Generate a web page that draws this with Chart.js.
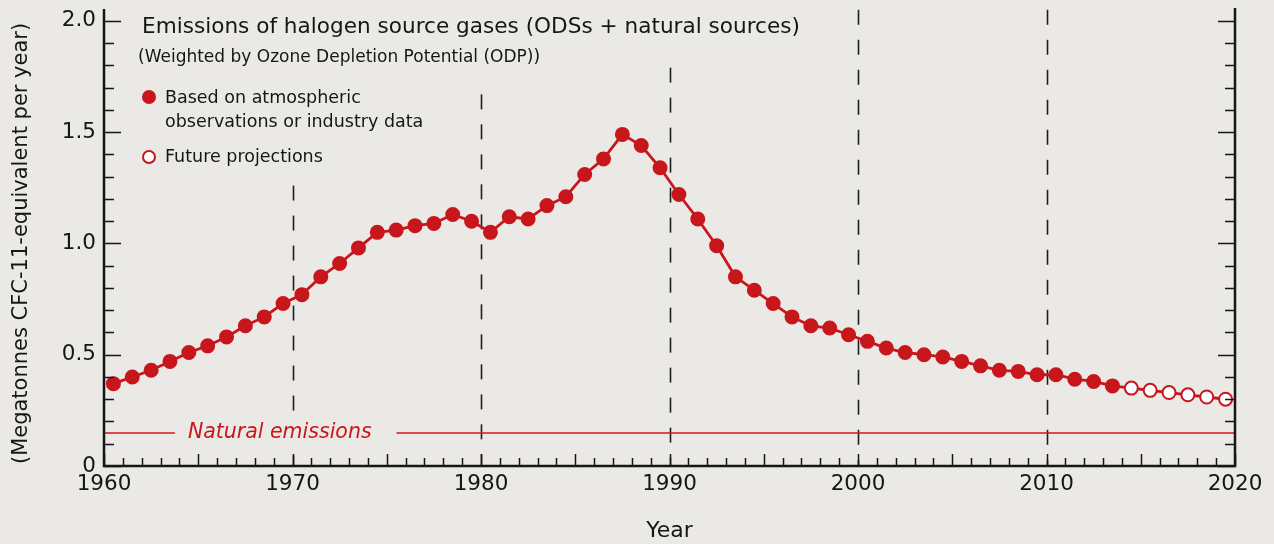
<!DOCTYPE html>
<html>
<head>
<meta charset="utf-8">
<script src="https://cdn.jsdelivr.net/npm/chart.js@4"></script>
<style>
  html, body { margin: 0; padding: 0; background: #ebe9e5; }
  canvas { display: block; }
</style>
</head>
<body>
<canvas id="emissions" width="1274" height="544"></canvas>
<script>

// Mid-year points, 1960.5 .. 2019.5
const years = [
    1960.5, 1961.5, 1962.5, 1963.5, 1964.5, 1965.5, 1966.5, 1967.5, 1968.5, 1969.5,
    1970.5, 1971.5, 1972.5, 1973.5, 1974.5, 1975.5, 1976.5, 1977.5, 1978.5, 1979.5,
    1980.5, 1981.5, 1982.5, 1983.5, 1984.5, 1985.5, 1986.5, 1987.5, 1988.5, 1989.5,
    1990.5, 1991.5, 1992.5, 1993.5, 1994.5, 1995.5, 1996.5, 1997.5, 1998.5, 1999.5,
    2000.5, 2001.5, 2002.5, 2003.5, 2004.5, 2005.5, 2006.5, 2007.5, 2008.5, 2009.5,
    2010.5, 2011.5, 2012.5, 2013.5, 2014.5, 2015.5, 2016.5, 2017.5, 2018.5, 2019.5
];

// Based on atmospheric observations or industry data (1960.5 .. 2013.5)
const observed = [
    0.37, 0.40, 0.43, 0.47, 0.51, 0.54, 0.58, 0.63, 0.67, 0.73,
    0.77, 0.85, 0.91, 0.98, 1.05, 1.06, 1.08, 1.09, 1.13, 1.10,
    1.05, 1.12, 1.11, 1.17, 1.21, 1.31, 1.38, 1.49, 1.44, 1.34,
    1.22, 1.11, 0.99, 0.85, 0.79, 0.73, 0.67, 0.63, 0.62, 0.59,
    0.56, 0.53, 0.51, 0.50, 0.49, 0.47, 0.45, 0.43, 0.425, 0.41,
    0.41, 0.39, 0.38, 0.36
];

// Future projections (2014.5 .. 2019.5)
const projected = [0.35, 0.34, 0.33, 0.32, 0.31, 0.30];

const naturalEmissions = 0.15;

const decades = [1970, 1980, 1990, 2000, 2010];
const decadeLineTops = [1.26, 1.67, 1.79, 2.05, 2.05];

const RED = "#c8161d";
const BG = "#ebe9e5";
const INK = "#161616";
const FONT = "'DejaVu Sans', sans-serif";


/**
* Build the point list and per-point colours from our arrays.
*/
function buildSeries() {

    var values = observed.concat(projected);
    var points = [];
    var fills = [];

    years.forEach((year, i) => {
        points.push({x: year, y: values[i]});
        fills.push(i < observed.length ? RED : "#ffffff");
    });

    return({points: points, fills: fills});

} // End of buildSeries()


/**
* Background, axes, inward ticks, decade lines, natural emissions line and text.
*/
const decorPlugin = {
    id: "decor",

    beforeDraw(chart) {
        var ctx = chart.ctx;
        ctx.save();
        ctx.fillStyle = BG;
        ctx.fillRect(0, 0, chart.width, chart.height);
        ctx.restore();
    },

    beforeDatasetsDraw(chart) {
        var ctx = chart.ctx;
        var x = chart.scales.x;
        var y = chart.scales.y;
        var area = chart.chartArea;

        ctx.save();

        // Dashed decade lines
        ctx.strokeStyle = "#1e1e1e";
        ctx.lineWidth = 1.6;
        ctx.setLineDash([15, 15]);
        decades.forEach((d, i) => {
            var px = Math.round(x.getPixelForValue(d)) + 0.5;
            ctx.beginPath();
            ctx.moveTo(px, y.getPixelForValue(decadeLineTops[i]));
            ctx.lineTo(px, area.bottom);
            ctx.stroke();
        });
        ctx.setLineDash([]);

        // Natural emissions line, with a gap for its label
        var ny = Math.round(y.getPixelForValue(naturalEmissions));
        ctx.font = "italic 20.5px " + FONT;
        var label = "Natural emissions";
        var lx = x.getPixelForValue(1964.45);
        var lw = ctx.measureText(label).width;

        // Clear the decade line behind the label
        ctx.fillStyle = BG;
        ctx.fillRect(lx - 4, ny - 13, lw + 8, 26);

        ctx.strokeStyle = "#d01820";
        ctx.lineWidth = 1.6;
        ctx.beginPath();
        ctx.moveTo(area.left, ny);
        ctx.lineTo(lx - 13, ny);
        ctx.moveTo(lx + lw + 25, ny);
        ctx.lineTo(area.right, ny);
        ctx.stroke();
        ctx.fillStyle = RED;
        ctx.textBaseline = "middle";
        ctx.fillText(label, lx, ny);

        ctx.restore();
    },

    afterDraw(chart) {
        var ctx = chart.ctx;
        var x = chart.scales.x;
        var y = chart.scales.y;
        var area = chart.chartArea;

        ctx.save();
        ctx.strokeStyle = INK;

        // Inward ticks on the left and right axes
        ctx.lineWidth = 1.5;
        for (var v = 0; v <= 20; v++) {
            var py = Math.round(y.getPixelForValue(v / 10)) + 0.5;
            var len = (v % 5 == 0) ? 17 : 10;
            ctx.beginPath();
            ctx.moveTo(area.left, py);
            ctx.lineTo(area.left + len, py);
            ctx.moveTo(area.right, py);
            ctx.lineTo(area.right - len, py);
            ctx.stroke();
        }

        // Inward ticks on the bottom axis, one per year
        for (var yr = x.min; yr <= x.max; yr++) {
            var px = Math.round(x.getPixelForValue(yr)) + 0.5;
            var tlen = (yr % 5 == 0) ? 12 : 8;
            ctx.beginPath();
            ctx.moveTo(px, area.bottom);
            ctx.lineTo(px, area.bottom - tlen);
            ctx.stroke();
        }

        // Axis frame (open at top)
        ctx.lineWidth = 2.5;
        ctx.beginPath();
        ctx.moveTo(area.left, area.top - 12);
        ctx.lineTo(area.left, area.bottom);
        ctx.lineTo(area.right, area.bottom);
        ctx.lineTo(area.right, area.top - 13);
        ctx.stroke();

        // Title block and legend
        ctx.fillStyle = INK;
        ctx.textBaseline = "middle";
        ctx.font = "21.6px " + FONT;
        ctx.fillText("Emissions of halogen source gases (ODSs + natural sources)", 142, 27);
        ctx.font = "17px " + FONT;
        ctx.fillText("(Weighted by Ozone Depletion Potential (ODP))", 138, 58);

        ctx.font = "17.5px " + FONT;
        ctx.fillText("Based on atmospheric", 165, 98);
        ctx.fillText("observations or industry data", 165, 122);
        ctx.fillText("Future projections", 165, 157);

        ctx.beginPath();
        ctx.arc(149, 97, 7, 0, Math.PI * 2);
        ctx.fillStyle = RED;
        ctx.fill();

        ctx.beginPath();
        ctx.arc(149, 157, 6, 0, Math.PI * 2);
        ctx.fillStyle = "#ffffff";
        ctx.fill();
        ctx.lineWidth = 2;
        ctx.strokeStyle = RED;
        ctx.stroke();

        ctx.restore();
    }
};


/**
* Create the chart.
*/
function drawChart() {

    var series = buildSeries();

    var data = {
        datasets: [{
            label: "Emissions",
            data: series.points,
            borderColor: RED,
            borderWidth: 2.8,
            pointRadius: 6.5,
            pointBorderWidth: 2,
            pointBorderColor: RED,
            pointBackgroundColor: series.fills,
            tension: 0,
        }],
    };

    var options = {
        responsive: false,
        animation: false,
        events: [],
        devicePixelRatio: 1,
        layout: {
            padding: {left: 0, right: 39, top: 19, bottom: 0},
        },
        scales: {
            x: {
                type: "linear",
                min: 1960,
                max: 2020,
                afterFit: (scale) => { scale.height = 78; },
                grid: {display: false, drawTicks: false},
                border: {display: false},
                ticks: {
                    stepSize: 10,
                    padding: 6,
                    color: INK,
                    font: {family: FONT, size: 21.5},
                    callback: (v) => String(v),
                },
                title: {
                    display: true,
                    text: "Year",
                    color: INK,
                    padding: {top: 7, bottom: 0},
                    font: {family: FONT, size: 22},
                },
            },
            y: {
                min: 0,
                max: 2,
                afterFit: (scale) => { scale.width = 104; },
                grid: {display: false, drawTicks: false},
                border: {display: false},
                ticks: {
                    stepSize: 0.5,
                    padding: 8,
                    color: INK,
                    font: {family: FONT, size: 21.5},
                    callback: (v) => (v == 0 ? "0" : v.toFixed(1)),
                },
                title: {
                    display: true,
                    text: "(Megatonnes CFC-11-equivalent per year)",
                    color: INK,
                    padding: {top: 9, bottom: 0},
                    font: {family: FONT, size: 21},
                },
            },
        },
        plugins: {
            legend: {display: false},
            tooltip: {enabled: false},
        },
    };

    var canvas = document.getElementById("emissions").getContext("2d");
    window.chart = new Chart(canvas, {
        type: "line",
        data: data,
        options: options,
        plugins: [decorPlugin],
    });

} // End of drawChart()

drawChart();

</script>
</body>
</html>
